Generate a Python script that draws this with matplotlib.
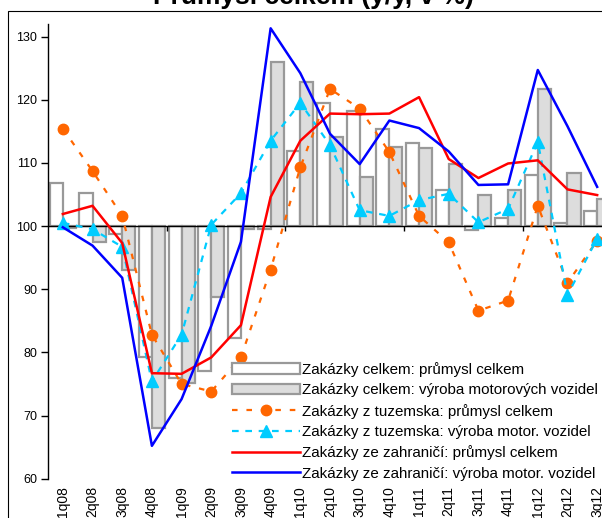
import matplotlib
matplotlib.use('Agg')
import matplotlib.pyplot as plt
from matplotlib.patches import Rectangle
import numpy as np

plt.rcParams['font.family'] = ['Liberation Sans', 'DejaVu Sans']

quarters = ['1q08', '2q08', '3q08', '4q08', '1q09', '2q09', '3q09', '4q09',
            '1q10', '2q10', '3q10', '4q10', '1q11', '2q11', '3q11', '4q11',
            '1q12', '2q12', '3q12']

# zakazky celkem (bars)
celkem_prumysl = [106.8, 105.3, 98.8, 79.2, 76.0, 77.1, 82.2, 99.5, 111.8, 119.4,
                  118.2, 115.3, 113.2, 105.7, 99.3, 101.3, 108.0, 100.5, 102.4]
celkem_auta = [99.7, 97.5, 93.0, 68.0, 75.2, 88.7, 99.6, 125.9, 122.8, 114.1,
               107.8, 112.5, 112.3, 109.8, 104.9, 105.7, 121.7, 108.4, 104.2]
# z tuzemska
tuzemsko_prumysl = [115.4, 108.7, 101.6, 82.8, 75.0, 73.8, 79.2, 93.1, 109.3, 121.7,
                    118.6, 111.7, 101.6, 97.4, 86.6, 88.2, 103.2, 91.0, 97.7]
tuzemsko_auta = [100.5, 99.5, 96.7, 75.4, 82.8, 100.2, 105.2, 113.5, 119.5, 112.8,
                 102.5, 101.6, 104.1, 105.1, 100.6, 102.7, 113.3, 89.1, 98.0]
# ze zahranici
zahranici_prumysl = [101.9, 103.2, 97.3, 76.7, 76.6, 79.2, 84.3, 104.6, 113.5, 117.8,
                     117.7, 117.8, 120.4, 110.6, 107.6, 109.9, 110.4, 105.8, 104.9]
zahranici_auta = [99.8, 96.9, 91.8, 65.2, 72.6, 84.2, 97.5, 131.3, 124.2, 114.6,
                  109.8, 116.7, 115.5, 111.8, 106.5, 106.6, 124.7, 115.8, 106.2]

labels = ['Zakázky celkem: průmysl celkem',
          'Zakázky celkem: výroba motorových vozidel',
          'Zakázky z tuzemska: průmysl celkem',
          'Zakázky z tuzemska: výroba motor. vozidel',
          'Zakázky ze zahraničí: průmysl celkem',
          'Zakázky ze zahraničí: výroba motor. vozidel']

fig = plt.figure(figsize=(6.02, 5.18), dpi=100)
ax = fig.add_axes([48 / 602, 0.0759, 564 / 602, 0.878])

x = np.arange(len(quarters))
w = 0.44
base = 100
b1 = ax.bar(x - w / 2, np.array(celkem_prumysl) - base, w, bottom=base, color='white',
            edgecolor='#999999', linewidth=1.6, zorder=2)
b2 = ax.bar(x + w / 2, np.array(celkem_auta) - base, w, bottom=base, color='#dddddd',
            edgecolor='#999999', linewidth=1.6, zorder=2)
ax.axhline(base, color='black', linewidth=1.0, zorder=3)
ax.vlines([i - 0.5 for i in range(4, len(quarters), 4)], base - 0.8, base,
          color='black', linewidth=1.0, zorder=3)

l1, = ax.plot(x, tuzemsko_prumysl, color='#ff6600', linestyle=(0, (2.5, 4)), linewidth=1.6,
              marker='o', markersize=7.5, zorder=4)
l2, = ax.plot(x, tuzemsko_auta, color='#00ccff', linestyle=(0, (3, 3)), linewidth=1.6,
              marker='^', markersize=8, zorder=4)
l3, = ax.plot(x, zahranici_prumysl, color='#ff0000', linewidth=1.8, zorder=5)
l4, = ax.plot(x, zahranici_auta, color='#0000ff', linewidth=1.8, zorder=5)

ax.set_xlim(-0.5, len(quarters) - 0.5)
ax.set_ylim(60, 132)
ax.set_yticks(range(60, 131, 10))
ax.set_xticks(x)
ax.set_xticklabels(quarters, rotation=90, fontsize=10)
ax.tick_params(axis='x', length=0, pad=5.5)
ax.tick_params(axis='y', length=5, width=1, labelsize=9, pad=3)
for s in ['top', 'right', 'bottom']:
    ax.spines[s].set_visible(False)
ax.spines['left'].set_linewidth(1.0)

ax.legend([b1, b2, l1, l2, l3, l4], labels, loc='upper left',
          bbox_to_anchor=(232 / 602, 1 - 362 / 518),
          bbox_transform=fig.transFigure, frameon=False, fontsize=10.9,
          handlelength=4.5, handletextpad=0.15, labelspacing=0.42,
          borderpad=0, borderaxespad=0, numpoints=1)

fig.text(313 / 602, 1 - 4 / 518, 'Průmysl celkem (y/y, v %)', ha='center',
         va='baseline', fontsize=19, fontweight='bold')
fig.patches.append(Rectangle((8 / 602, -0.1), 1.2, 1.1 - 11 / 518,
                             transform=fig.transFigure, fill=False,
                             edgecolor='black', linewidth=0.8))

fig.savefig('out.png', dpi=100)
